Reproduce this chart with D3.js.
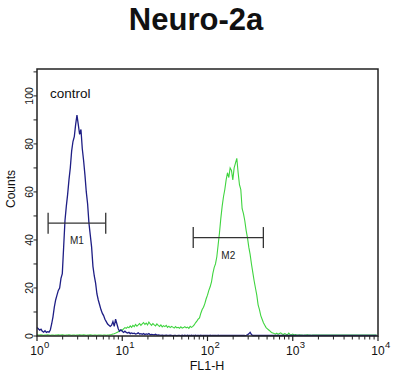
<!DOCTYPE html>
<html>
<head>
<meta charset="utf-8">
<script src="https://cdn.jsdelivr.net/npm/d3@7/dist/d3.min.js"></script>
<style>
  body { margin: 0; background: #fff; }
  text { font-family: "Liberation Sans", Arial, sans-serif; }
</style>
</head>
<body>
<svg id="chart" width="400" height="392"></svg>
<script>
// chart data
var title = "Neuro-2a";
var xLabel = "FL1-H";
var yLabel = "Counts";
var decades = [1, 10, 100, 1000, 10000];
var yTicks = [0, 20, 40, 60, 80, 100];
var channelsPerDecade = 64;

// control histogram (blue), 256 channels over 4 decades
var controlCounts = [
  3.5, 3.0, 2.4, 2.8, 2.0, 1.6, 2.2, 1.5, 1.8, 1.6, 2.5, 5.0, 8.0, 12, 15, 17,
  19, 20, 24, 26, 37, 48, 54, 59, 65, 70, 77, 81, 83, 88, 92, 88,
  84, 86, 78, 73, 67, 60, 55, 47, 42, 37, 29, 25, 22, 17.5, 15, 13,
  11, 9.5, 8.5, 7, 6, 5, 4.5, 4, 4.5, 6, 4, 7, 5, 3, 2, 2.5,
  2, 1.5, 2, 1.5, 1.2, 1.5, 1, 1.3, 1, 1.2, 0.8, 1, 1.3, 0.8, 1, 0.7,
  1, 0.6, 0.9, 0.7, 1, 0.5, 0.7, 0.6, 0.5, 0.7, 0.4, 0.5, 0.4, 0.3, 0.4, 0.3,
  0.3, 0.4, 0.3, 0.3, 0.4, 0.3, 0.2, 0.3, 0.3, 0.2, 0.3, 0.3, 0.2, 0.3, 0.2, 0.3,
  0.2, 0.3, 0.2, 0.2, 0.3, 0.2, 0.2, 0.3, 0.2, 0.2, 0.2, 0.3, 0.2, 0.2, 0.2, 0.2,
  0.2, 0.2, 0.3, 0.2, 0.2, 0.2, 0.2, 0.2, 0.3, 0.2, 0.2, 0.2, 0.2, 0.2, 0.2, 0.2,
  0.2, 0.2, 0.2, 0.2, 0.2, 0.2, 0.2, 0.2, 0.2, 0.2, 0.2, 0.2, 0.2, 0.3, 0.5, 0.9,
  1.5, 0.6, 0.2, 0.2, 0.2, 0.2, 0.2, 0.2, 0.2, 0.2, 0.2, 0.2, 0.2, 0.2, 0.2, 0.2,
  0.2, 0.2, 0.2, 0.2, 0.2, 0.2, 0.2, 0.2, 0.2, 0.2, 0.2, 0.2, 0.2, 0.2, 0.2, 0.2,
  0.2, 0.2, 0.2, 0.2, 0.2, 0.2, 0.2, 0.2, 0.2, 0.2, 0.2, 0.2, 0.2, 0.2, 0.2, 0.2,
  0.2, 0.2, 0.2, 0.2, 0.2, 0.2, 0.2, 0.2, 0.2, 0.2, 0.2, 0.2, 0.2, 0.2, 0.2, 0.2,
  0.2, 0.2, 0.2, 0.2, 0.2, 0.2, 0.2, 0.2, 0.2, 0.2, 0.2, 0.2, 0.2, 0.2, 0.2, 0.2,
  0.2, 0.2, 0.2, 0.2, 0.2, 0.2, 0.2, 0.2, 0.2, 0.2, 0.2, 0.2, 0.2, 0.2, 0.2, 0.2
];

// stained sample histogram (green)
var sampleCounts = [
  0.5, 0.4, 0.4, 0.5, 0.4, 0.3, 0.4, 0.4, 0.5, 0.4, 0.3, 0.4, 0.4, 0.3, 0.4, 0.4,
  0.5, 0.4, 0.4, 0.5, 0.4, 0.3, 0.4, 0.4, 0.5, 0.4, 0.3, 0.4, 0.4, 0.3, 0.4, 0.4,
  0.5, 0.4, 0.4, 0.5, 0.4, 0.3, 0.4, 0.4, 0.5, 0.4, 0.3, 0.4, 0.4, 0.3, 0.4, 0.4,
  0.4, 0.3, 0.4, 0.4, 0.3, 0.4, 0.4, 0.5, 0.6, 0.8, 0.9, 1.2, 1.5, 1.8, 2.2, 2.6,
  2.4, 3.0, 3.5, 3.2, 3.8, 3.4, 4.2, 3.6, 4.4, 3.9, 4.8, 4.1, 4.6, 5.2, 4.4, 5.0,
  5.6, 4.8, 5.4, 4.6, 5.8, 5.0, 4.4, 5.2, 4.6, 4.2, 5.0, 4.4, 4.0, 4.6, 3.8, 4.3,
  3.9, 4.4, 3.6, 4.1, 3.5, 4.0, 3.7, 3.3, 3.9, 3.4, 3.6, 3.2, 3.8, 3.3, 3.5, 3.9,
  3.4, 3.7, 3.2, 4.0, 3.6, 4.0, 4.6, 5.5, 6.2, 7.0, 7.5, 9.5, 11, 12, 13.5, 15.5,
  17, 19, 20.5, 22.5, 26, 28.5, 30, 33, 38, 43, 49, 54, 58, 61, 65, 68,
  66, 70, 69, 65, 70, 72, 74, 68, 63, 61, 53, 51, 48, 44, 41, 37,
  34, 30, 26.5, 23, 20, 17, 13, 11, 8.5, 7, 5.5, 4.5, 3.5, 3, 2.5, 2,
  1.5, 1.3, 1, 0.8, 1.2, 0.7, 1, 1.3, 0.8, 0.6, 1, 0.7, 0.5, 1.2, 0.6, 0.5,
  0.8, 0.4, 0.6, 0.4, 0.4, 0.5, 0.4, 0.4, 0.3, 0.4, 0.4, 0.5, 0.4, 0.4, 0.3, 0.4,
  0.4, 0.4, 0.4, 0.4, 0.4, 0.4, 0.4, 0.4, 0.4, 0.4, 0.4, 0.4, 0.4, 0.4, 0.4, 0.4,
  0.4, 0.4, 0.4, 0.4, 0.4, 0.4, 0.4, 0.4, 0.4, 0.4, 0.4, 0.4, 0.4, 0.4, 0.4, 0.4,
  0.4, 0.4, 0.4, 0.4, 0.4, 0.4, 0.4, 0.4, 0.4, 0.4, 0.4, 0.4, 0.4, 0.4, 0.4, 0.4
];

// marker gates: name, low / high FL1-H and the count level of the bar
var markerNames = ["M1", "M2"];
var markerLow = [1.35, 68];
var markerHigh = [6.4, 452];
var markerLevel = [47, 41];

var svg = d3.select("#chart");

var x = d3.scaleLog().domain([1, 10000]).range([37, 378]);
var y = d3.scaleLinear().domain([0, 111.2]).range([336, 69]);

// channel index -> FL1-H value
function chanValue(i) { return Math.pow(10, i / channelsPerDecade); }

var line = d3.line()
  .x(function(d, i) { return x(chanValue(i)); })
  .y(function(d) { return y(d); });

// title
svg.append("text")
  .attr("x", 196).attr("y", 30)
  .attr("text-anchor", "middle")
  .attr("font-size", "31px")
  .attr("font-weight", "bold")
  .attr("fill", "#111")
  .text(title);

// histograms
svg.append("path")
  .datum(sampleCounts)
  .attr("d", line)
  .attr("fill", "none")
  .attr("stroke", "#3fd43f")
  .attr("stroke-width", 1.1);

svg.append("path")
  .datum(controlCounts)
  .attr("d", line)
  .attr("fill", "none")
  .attr("stroke", "#1e1e85")
  .attr("stroke-width", 1.3);

// frame
svg.append("rect")
  .attr("x", 37).attr("y", 69)
  .attr("width", 341).attr("height", 267)
  .attr("fill", "none")
  .attr("stroke", "#222")
  .attr("stroke-width", 1.5);

// x axis ticks (major + minor)
var minorTicks = [];
decades.slice(0, 4).forEach(function(d) {
  for (var k = 2; k <= 9; k++) minorTicks.push(d * k);
});
var xAxisG = svg.append("g");
xAxisG.selectAll("line.minor")
  .data(minorTicks).enter().append("line")
  .attr("x1", d => x(d)).attr("x2", d => x(d))
  .attr("y1", 336).attr("y2", 339.5)
  .attr("stroke", "#222").attr("stroke-width", 1);
xAxisG.selectAll("line.major")
  .data(decades).enter().append("line")
  .attr("x1", d => x(d)).attr("x2", d => x(d))
  .attr("y1", 336).attr("y2", 341)
  .attr("stroke", "#222").attr("stroke-width", 1.2);
xAxisG.selectAll("text.base")
  .data(decades).enter().append("text")
  .attr("x", d => x(d)).attr("y", 355)
  .attr("text-anchor", "middle")
  .attr("font-size", "12px")
  .attr("fill", "#111")
  .text("10");
xAxisG.selectAll("text.exp")
  .data(decades).enter().append("text")
  .attr("x", d => x(d) + 7).attr("y", 348)
  .attr("font-size", "9.5px")
  .attr("fill", "#111")
  .text(d => Math.round(Math.log10(d)));

svg.append("text")
  .attr("x", 207).attr("y", 370)
  .attr("text-anchor", "middle")
  .attr("font-size", "12.5px")
  .attr("fill", "#111")
  .text(xLabel);

// y axis ticks every 10, labels every 20
var yAxisG = svg.append("g");
yAxisG.selectAll("line")
  .data(d3.range(0, 111, 10)).enter().append("line")
  .attr("x1", 33.5).attr("x2", 37)
  .attr("y1", d => y(d)).attr("y2", d => y(d))
  .attr("stroke", "#222").attr("stroke-width", 1);
yAxisG.selectAll("text")
  .data(yTicks).enter().append("text")
  .attr("transform", d => "translate(33," + y(d) + ") rotate(-90)")
  .attr("text-anchor", "middle")
  .attr("font-size", "10.5px")
  .attr("fill", "#111")
  .text(d => d);

svg.append("text")
  .attr("transform", "translate(15,189) rotate(-90)")
  .attr("text-anchor", "middle")
  .attr("font-size", "12px")
  .attr("fill", "#111")
  .text(yLabel);

// "control" label
svg.append("text")
  .attr("x", 50).attr("y", 98)
  .attr("font-size", "13.5px")
  .attr("fill", "#111")
  .text("control");

// marker bars
var mk = svg.append("g");
markerNames.forEach(function(name, i) {
  var x0 = x(markerLow[i]), x1 = x(markerHigh[i]), yy = y(markerLevel[i]);
  mk.append("line").attr("x1", x0).attr("x2", x1).attr("y1", yy).attr("y2", yy)
    .attr("stroke", "#333").attr("stroke-width", 1.3);
  [x0, x1].forEach(function(xx) {
    mk.append("line").attr("x1", xx).attr("x2", xx).attr("y1", yy - 10.5).attr("y2", yy + 10.5)
      .attr("stroke", "#333").attr("stroke-width", 1.3);
  });
  mk.append("text")
    .attr("x", (x0 + x1) / 2).attr("y", yy + 21)
    .attr("text-anchor", "middle")
    .attr("font-size", "10px")
    .attr("fill", "#222")
    .text(name);
});
</script>
</body>
</html>
